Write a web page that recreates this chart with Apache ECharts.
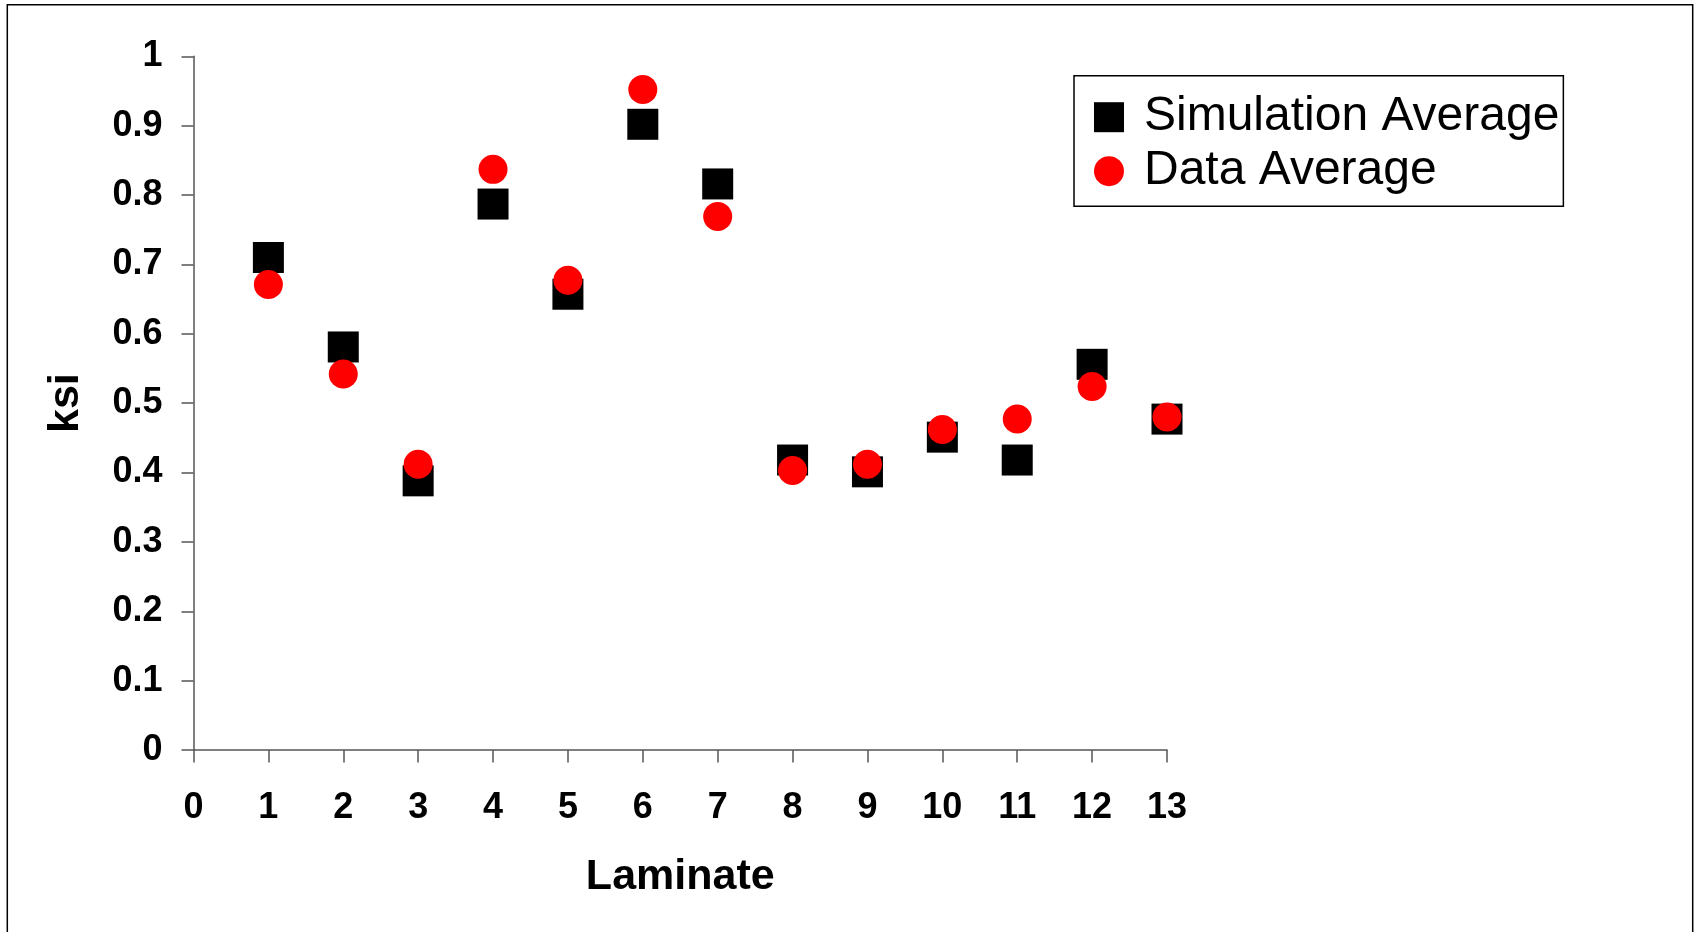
<!DOCTYPE html>
<html>
<head>
<meta charset="utf-8">
<script src="https://cdn.jsdelivr.net/npm/echarts@6/dist/echarts.min.js"></script>
<style>
html,body{margin:0;padding:0;background:#fff;}
#chart{width:1694px;height:932px;}
</style>
</head>
<body>
<div id="chart"></div>
<script>
const laminates = [1,2,3,4,5,6,7,8,9,10,11,12,13];
const simulationAverage = [0.710,0.581,0.388,0.787,0.657,0.902,0.816,0.418,0.401,0.451,0.418,0.556,0.477];
const dataAverage = [0.671,0.542,0.412,0.837,0.677,0.952,0.769,0.403,0.412,0.462,0.477,0.524,0.480];
const seriesNames = ['Simulation Average','Data Average'];
const xTitle = 'Laminate';
const yTitle = 'ksi';

const FONT = '"Liberation Sans", Arial, sans-serif';
const chart = echarts.init(document.getElementById('chart'), null, {renderer:'canvas'});
const axisLineStyle = {color:'#555', width:1.5};

chart.setOption({
  animation:false,
  backgroundColor:'#fff',
  graphic:[{
    type:'rect', silent:true,
    shape:{x:7.3, y:4.7, width:1685.4, height:1000},
    style:{fill:'none', stroke:'#000', lineWidth:1.5}
  }],
  grid:{left:193.5, right:527, top:56.3, bottom:182, containLabel:false},
  legend:{
    orient:'vertical',
    left:1074, top:75.7,
    padding:[16.5,4,10,20],
    itemGap:4,
    itemWidth:30, itemHeight:30,
    itemTextGap:20,
    borderColor:'#000', borderWidth:1.5,
    textStyle:{fontFamily:FONT, fontSize:48, color:'#000', lineHeight:50, padding:[0,0,0,15]},
    data:[{name:seriesNames[0], icon:'rect'},{name:seriesNames[1], icon:'circle'}]
  },
  xAxis:{
    type:'value', min:0, max:13, interval:1,
    name:xTitle, nameLocation:'middle', nameGap:106,
    nameTextStyle:{fontFamily:FONT, fontSize:43, fontWeight:'bold', color:'#000'},
    axisLine:{show:true, lineStyle:axisLineStyle},
    axisTick:{show:true, inside:false, length:12.5, lineStyle:axisLineStyle},
    axisLabel:{fontFamily:FONT, fontSize:36, fontWeight:'bold', color:'#000', margin:40},
    splitLine:{show:false}
  },
  yAxis:{
    type:'value', min:0, max:1, interval:0.1,
    name:yTitle, nameLocation:'middle', nameGap:106, nameRotate:90,
    nameTextStyle:{fontFamily:FONT, fontSize:43, fontWeight:'bold', color:'#000'},
    axisLine:{show:true, lineStyle:axisLineStyle},
    axisTick:{show:true, inside:false, length:12, lineStyle:axisLineStyle},
    axisLabel:{fontFamily:FONT, fontSize:36, fontWeight:'bold', color:'#000', margin:31,
      formatter:function(v){return String(+v.toFixed(1));}},
    splitLine:{show:false}
  },
  series:[
    {name:seriesNames[0], type:'scatter', symbol:'rect', symbolSize:31,
     itemStyle:{color:'#000', opacity:1},
     data:laminates.map((x,i)=>[x, simulationAverage[i]])},
    {name:seriesNames[1], type:'scatter', symbol:'circle', symbolSize:29,
     itemStyle:{color:'#ff0000', opacity:1},
     data:laminates.map((x,i)=>[x, dataAverage[i]])}
  ]
});
</script>
</body>
</html>
